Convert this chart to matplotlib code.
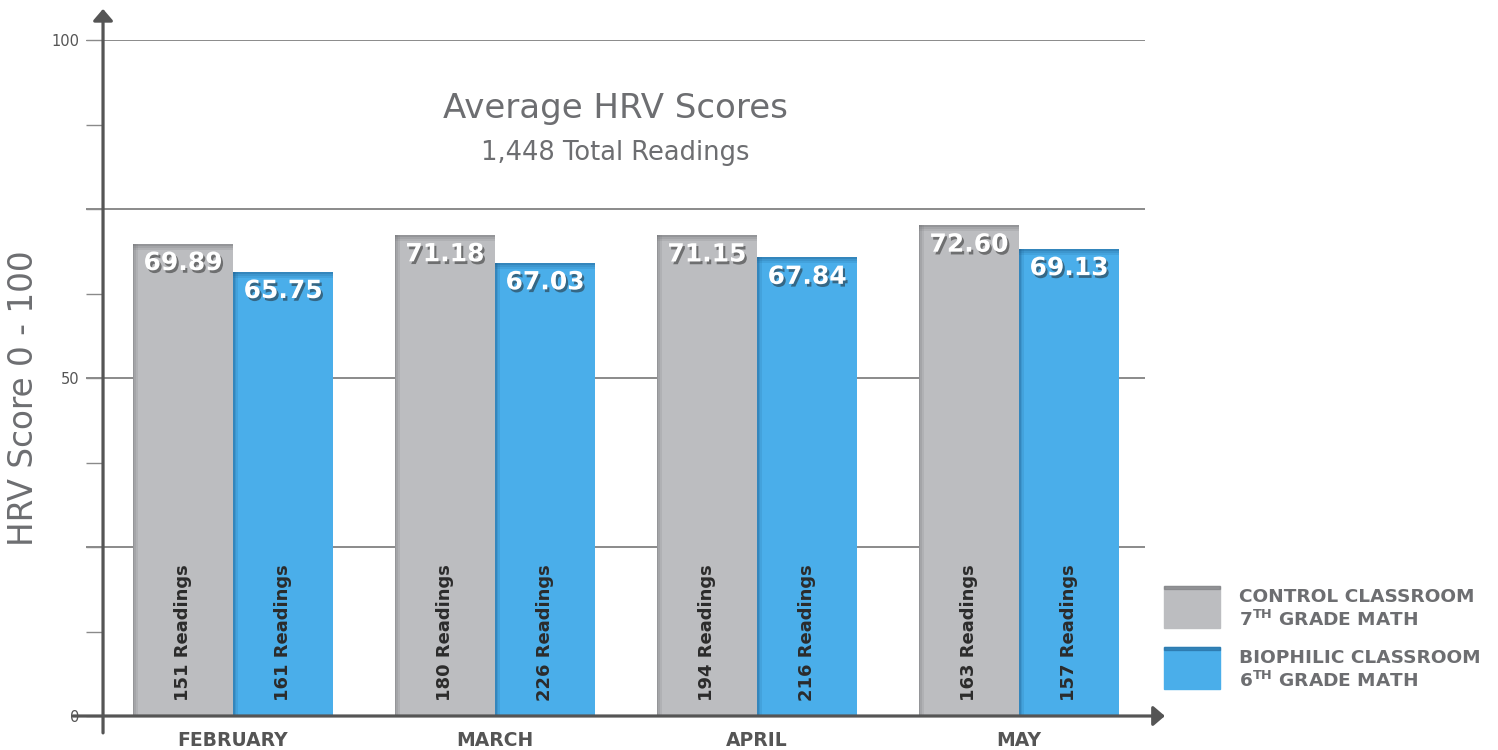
import numpy as np
import matplotlib.pyplot as plt
from matplotlib import patheffects as pe
from matplotlib.patches import Rectangle

plt.rcParams['font.family'] = ['DejaVu Sans']

months = ["FEBRUARY", "MARCH", "APRIL", "MAY"]
control_scores = [69.89, 71.18, 71.15, 72.60]
biophilic_scores = [65.75, 67.03, 67.84, 69.13]
control_readings = [151, 180, 194, 163]
biophilic_readings = [161, 226, 216, 157]

legend_names = ["CONTROL CLASSROOM", "BIOPHILIC CLASSROOM"]
legend_grades = ["7", "6"]

GRAY = "#bcbdc0"
BLUE = "#4aaeea"
GRAY_DARK = "#6d6e71"
BLUE_DARK = "#1f5f90"
TEXT = "#6d6e71"
AXIS = "#555555"

fig = plt.figure(figsize=(14.98, 7.5), dpi=100)
ax = fig.add_axes([86 / 1498, 34 / 750, 1059 / 1498, 676 / 750])

x = np.arange(len(months))
w = 0.382
ax.set_xlim(-0.561, 3.481)
ax.set_ylim(0, 100)

# grid + ticks
yticks = np.arange(0, 100.1, 12.5)
ax.set_yticks(yticks, [str(int(t)) if t % 50 == 0 else "" for t in yticks])
for t in yticks:
    if t % 25 == 0 and t > 0:
        ax.axhline(t, color="#8a8a8a", lw=1.4, zorder=1)
ax.tick_params(axis="y", direction="in", length=12.2, width=1, color="#8a8a8a",
               labelsize=10.5, labelcolor=AXIS, pad=5)
for lab in ax.get_yticklabels():
    lab.set_va("center_baseline")
ax.set_xticks(x, months)
ax.tick_params(axis="x", length=0, pad=11, labelsize=13.5, labelcolor=AXIS)
for lab in ax.get_xticklabels():
    lab.set_fontweight("bold")
for s in ax.spines.values():
    s.set_visible(False)

# bars
series = [(x - w / 2, control_scores, control_readings, GRAY, GRAY_DARK),
          (x + w / 2, biophilic_scores, biophilic_readings, BLUE, BLUE_DARK)]
for xs, vals, reads, col, dark in series:
    bars = ax.bar(xs, vals, w, color=col, zorder=3)
    for b, v, n in zip(bars, vals, reads):
        x0 = b.get_x()
        # inner shading on left and top edges
        for k, a in enumerate([0.5, 0.3, 0.15]):
            ax.bar(x0 + k * 0.006, v, 0.006, align="edge", color=dark, alpha=a, zorder=4, lw=0)
            ax.bar(x0, 0.3, w, bottom=v - 0.3 * (k + 1), align="edge", color=dark,
                   alpha=a, zorder=4, lw=0)
        cx = x0 + w / 2
        ax.annotate(f"{v:.2f}", (cx, v), xytext=(0, -14), textcoords="offset points",
                    ha="center", va="center", fontsize=18, fontweight="bold", color="white",
                    zorder=6,
                    path_effects=[pe.withSimplePatchShadow(offset=(1.5, -2),
                                                           shadow_rgbFace="#222222", alpha=0.5)])
        ax.annotate(f"{n} Readings", (cx, 0), xytext=(0, 11), textcoords="offset points",
                    rotation=90, ha="center", va="bottom", fontsize=13, fontweight="bold",
                    color="#2b2b2b", zorder=6)

# axis arrows
ysp = -0.496
ax.annotate("", xy=(ysp, 104.6), xytext=(ysp, -2.5), annotation_clip=False,
            arrowprops=dict(arrowstyle="-|>,head_length=0.7,head_width=0.6", color=AXIS,
                            lw=2.3, shrinkA=0, shrinkB=0), zorder=7)
ax.annotate("", xy=(3.557, 0), xytext=(-0.61, 0), annotation_clip=False,
            arrowprops=dict(arrowstyle="-|>,head_length=0.7,head_width=0.6", color=AXIS,
                            lw=2.3, shrinkA=0, shrinkB=0), zorder=7)

# titles
ax.text(0.5, 0.899, "Average HRV Scores", transform=ax.transAxes, ha="center",
        va="center", fontsize=24.5, color=TEXT)
ax.text(0.5, 0.833, "1,448 Total Readings", transform=ax.transAxes, ha="center",
        va="center", fontsize=18.5, color=TEXT)
fig.text(24 / 1498, 352 / 750, "HRV Score 0 - 100", rotation=90, ha="center",
         va="center", fontsize=23.5, color=TEXT)

# legend
for i, (name, grade, col, dark) in enumerate(zip(legend_names, legend_grades,
                                                 [GRAY, BLUE], [GRAY_DARK, BLUE_DARK])):
    y0 = 0.1627 - i * 0.0814
    fig.patches.append(Rectangle((1164 / 1498, y0), 56 / 1498, 0.056,
                                 transform=fig.transFigure, color=col))
    fig.patches.append(Rectangle((1164 / 1498, y0 + 0.052), 56 / 1498, 0.004,
                                 transform=fig.transFigure, color=dark, alpha=0.5))
    fig.text(1239 / 1498, y0 + 0.0413, name, ha="left", va="center", fontsize=13.3,
             fontweight="bold", color=TEXT)
    fig.text(1239 / 1498, y0 + 0.0107, grade + r"$^{\mathbf{TH}}$ GRADE MATH", ha="left",
             va="center", fontsize=13.3, fontweight="bold", color=TEXT)

fig.savefig("out.png", dpi=100)
